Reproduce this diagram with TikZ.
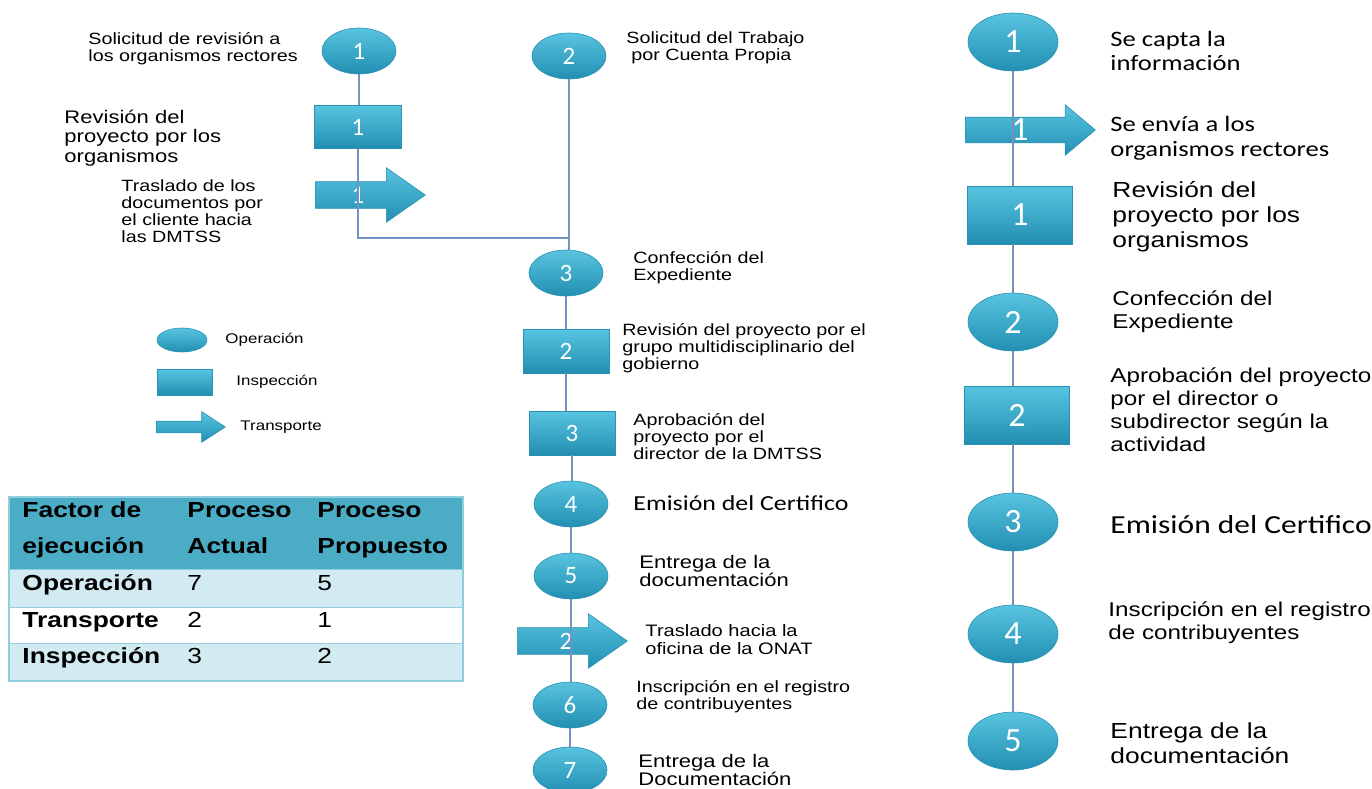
\documentclass[tikz,border=0pt]{standalone}
\usepackage{fontspec}
\setmainfont{Liberation Sans}
\newfontfamily\carlito{Carlito}
\usetikzlibrary{shapes,arrows,positioning}
\definecolor{shapetop}{RGB}{88,196,224}
\definecolor{shapebot}{RGB}{34,143,178}
\definecolor{shapeedge}{RGB}{40,145,180}
\definecolor{linkblue}{RGB}{118,144,194}
\definecolor{tabhead}{RGB}{75,172,198}
\definecolor{tabrow}{RGB}{210,234,241}
\definecolor{tabline}{RGB}{146,205,222}

\tikzset{
  shp/.style={top color=shapetop, bottom color=shapebot, draw=shapeedge, line width=0.3pt, text=white, inner sep=0pt},
  oper/.style={shp, ellipse, minimum width=37pt, minimum height=23pt, font=\carlito\fontsize{12.5}{14}\selectfont},
  bigoper/.style={shp, ellipse, minimum width=45pt, minimum height=29pt, font=\carlito\fontsize{17}{19}\selectfont},
  insp/.style={shp, rectangle, minimum width=43pt, minimum height=22pt, font=\carlito\fontsize{12.5}{14}\selectfont},
  biginsp/.style={shp, rectangle, minimum width=52.5pt, minimum height=29pt, font=\carlito\fontsize{17}{19}\selectfont},
  transp/.style={shp, single arrow, anchor=tail, inner xsep=0pt, inner ysep=6.5pt, text height=0pt, text depth=0pt,
    single arrow head extend=7pt, single arrow tip angle=70, minimum height=55pt},
  num/.style={text=white, inner sep=0pt, font=\carlito\fontsize{12.5}{14}\selectfont},
  link/.style={draw=linkblue, line width=0.8pt},
  txt/.style={anchor=west, align=left, inner sep=0pt, xscale=1.21},
  fsmall/.style={font=\fontsize{8.15}{8.5}\selectfont},
  fmid/.style={font=\fontsize{9.1}{9.75}\selectfont},
  fright/.style={font=\fontsize{10}{11.5}\selectfont},
  fbig/.style={font=\fontsize{10.9}{12.5}\selectfont},
  tabtxt/.style={inner sep=0pt, xscale=1.21, anchor=base west, font=\fontsize{10.9}{18}\selectfont},
  tabbold/.style={tabtxt, font=\bfseries\fontsize{10.9}{18}\selectfont},
}

\begin{document}
\begin{tikzpicture}[x=0.5pt,y=-0.5pt]
\useasboundingbox (0,0) rectangle (1372,788);

% Proceso actual, rama izquierda
\node[oper] (aop1) at (359,51) {1};
\node[insp, minimum width=43.5pt, minimum height=21.5pt] (ain1) at (358,127) {1};
\node[transp] (atr1) at (315,195) {};
\node[num] (atr1n) at (358,195) {1};
\node[txt, fsmall] (aop1t) at (88,49) {Solicitud de revisión a\\los organismos rectores};
\node[txt, fmid] (ain1t) at (64,138) {Revisión del\\proyecto por los\\organismos};
\node[txt, fsmall] (atr1t) at (121,211) {Traslado de los\\documentos por\\el cliente hacia\\las DMTSS};

% Proceso actual, columna central
\node[oper] (bop2) at (569,56) {2};
\node[oper] (bop3) at (566,273) {3};
\node[insp] (bin2) at (566,351) {2};
\node[insp] (bin3) at (572,433) {3};
\node[oper] (bop4) at (571,504) {4};
\node[oper] (bop5) at (571,576) {5};
\node[transp] (btr2) at (517,641) {};
\node[num] (btr2n) at (566,641) {2};
\node[oper] (bop6) at (570,705) {6};
\node[oper] (bop7) at (570,770) {7};
\coordinate (jn) at (569,238);

\node[txt, fsmall] (bop2t) at (626,48) {Solicitud del Trabajo\\\hspace{2pt}por Cuenta Propia};
\node[txt, fsmall] (bop3t) at (633,268) {Confección del\\Expediente};
\node[txt, fsmall] (bin2t) at (622,348) {Revisión del proyecto por el\\grupo multidisciplinario del\\gobierno};
\node[txt, fsmall] (bin3t) at (633,437) {Aprobación del\\proyecto por el\\director de la DMTSS};
\node[txt, font=\carlito\fontsize{10.7}{12}\selectfont] (bop4t) at (633,503) {Emisión del Certifico};
\node[txt, font=\fontsize{9.1}{9}\selectfont] (bop5t) at (639,571) {Entrega de la\\documentación};
\node[txt, font=\fontsize{8.3}{9}\selectfont] (btr2t) at (645,640) {Traslado hacia la\\oficina de la ONAT};
\node[txt, fsmall] (bop6t) at (636,697) {Inscripción en el registro\\de contribuyentes};
\node[txt, font=\fontsize{9.1}{9}\selectfont] (bop7t) at (638,770) {Entrega de la\\Documentación};

% Proceso propuesto
\node[bigoper] (cop1) at (1013,42) {1};
\node[transp, inner ysep=6.25pt, single arrow head extend=6.25pt, single arrow tip angle=80, minimum height=65pt] (ctr1) at (965,130) {};
\node[num, font=\carlito\fontsize{17}{19}\selectfont] (ctr1n) at (1020,130) {1};
\node[biginsp] (cin1) at (1020,215) {1};
\node[bigoper] (cop2) at (1013,322) {2};
\node[biginsp] (cin2) at (1017,415) {2};
\node[bigoper] (cop3) at (1013,522) {3};
\node[bigoper] (cop4) at (1013,634) {4};
\node[bigoper] (cop5) at (1013,741) {5};

\node[txt, font=\carlito\fontsize{11}{12}\selectfont] (cop1t) at (1110,51) {Se capta la\\información};
\node[txt, font=\carlito\fontsize{11}{12.5}\selectfont] (ctr1t) at (1110,138) {Se envía a los\\organismos rectores};
\node[txt, fbig] (cin1t) at (1112,217) {Revisión del\\proyecto por los\\organismos};
\node[txt, fright] (cop2t) at (1112,312) {Confección del\\Expediente};
\node[txt, fright] (cin2t) at (1110,410) {Aprobación del proyecto\\por el director o\\subdirector según la\\actividad};
\node[txt, font=\carlito\fontsize{13}{15}\selectfont] (cop3t) at (1110,525) {Emisión del Certifico};
\node[txt, fright] (cop4t) at (1108,623) {Inscripción en el registro\\de contribuyentes};
\node[txt, fbig] (cop5t) at (1110,743) {Entrega de la\\documentación};

% Conectores
\draw[link] (aop1.south) -- (aop1.south |- ain1.north);
\draw[link] (ain1.south) -- (ain1.south |- jn) -- (jn);
\draw[link] (bop2.south) -- (bop2.south |- bop3.north);
\draw[link] (bop3.south) -- (bop3.south |- bin2.north);
\draw[link] (bin2.south) -- (bin2.south |- bin3.north);
\draw[link] (bin3.south) -- (bin3.south |- bop4.north);
\draw[link] (bop4.south) -- (bop4.south |- bop5.north);
\draw[link] (bop5.south) -- (bop5.south |- bop6.north);
\draw[link] (bop6.south) -- (bop6.south |- bop7.north);
\draw[link] (cop1.south) -- (cop1.south |- cin1.north);
\draw[link] (cin1.south -| cop2) -- (cop2.north);
\draw[link] (cop2.south) -- (cop2.south |- cin2.north);
\draw[link] (cin2.south -| cop3) -- (cop3.north);
\draw[link] (cop3.south) -- (cop4.north);
\draw[link] (cop4.south) -- (cop5.north);

% Leyenda
\node[shp, ellipse, minimum width=25pt, minimum height=12pt] (lgop) at (182,340) {};
\node[shp, rectangle, minimum width=27.5pt, minimum height=13pt] (lgin) at (185,382) {};
\node[transp, inner ysep=2.75pt, single arrow head extend=4.75pt, single arrow tip angle=66, minimum height=34.5pt] (lgtr) at (156,427) {};
\node[txt, font=\fontsize{7}{8}\selectfont] (lgopt) at (225,340) {Operación};
\node[txt, font=\fontsize{7}{8}\selectfont] (lgint) at (236,382) {Inspección};
\node[txt, font=\fontsize{7}{8}\selectfont] (lgtrt) at (240,427) {Transporte};

% Tabla resumen
\fill[tabhead] (9,497) rectangle (463,569);
\fill[tabrow] (9,569) rectangle (463,607);
\fill[white] (9,607) rectangle (463,643);
\fill[tabrow] (9,643) rectangle (463,681);
\draw[tabline, line width=0.5pt] (9,569) -- (463,569) (9,607) -- (463,607) (9,643) -- (463,643);
\draw[tabline, line width=0.8pt] (9,497) rectangle (463,681);
\node[tabbold] (th1a) at (22,517) {Factor de};
\node[tabbold] (th1b) at (22,553) {ejecución};
\node[tabbold] (th2a) at (187,517) {Proceso};
\node[tabbold] (th2b) at (187,553) {Actual};
\node[tabbold] (th3a) at (317,517) {Proceso};
\node[tabbold] (th3b) at (317,553) {Propuesto};
\node[tabbold] (tr1) at (22,590) {Operación};
\node[tabtxt] (tr1a) at (187,590) {7};
\node[tabtxt] (tr1b) at (317,590) {5};
\node[tabbold] (tr2) at (22,627) {Transporte};
\node[tabtxt] (tr2a) at (187,627) {2};
\node[tabtxt] (tr2b) at (317,627) {1};
\node[tabbold] (tr3) at (22,663) {Inspección};
\node[tabtxt] (tr3a) at (187,663) {3};
\node[tabtxt] (tr3b) at (317,663) {2};
\end{tikzpicture}
\end{document}
